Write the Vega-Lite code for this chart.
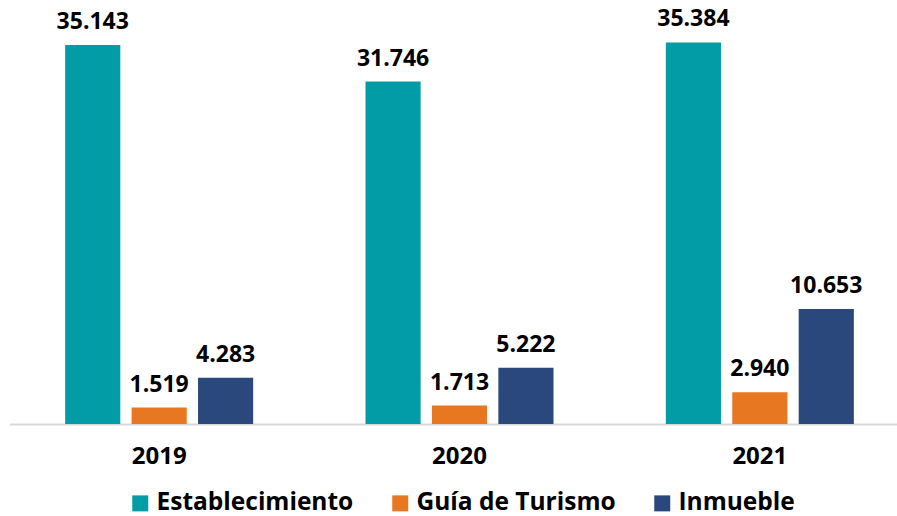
{
  "$schema": "https://vega.github.io/schema/vega-lite/v6.json",
  "width": 888,
  "height": 424,
  "autosize": {"type": "none"},
  "padding": {"left": 9, "top": 0, "right": 0, "bottom": 92},
  "config": {
    "view": {"stroke": null},
    "font": "Open Sans",
    "locale": {"number": {"decimal": ",", "thousands": ".", "grouping": [3], "currency": ["$", ""]}}
  },
  "data": {
    "values": [
      {"year": "2019", "tipo": "Establecimiento", "valor": 35143},
      {"year": "2019", "tipo": "Guía de Turismo", "valor": 1519},
      {"year": "2019", "tipo": "Inmueble", "valor": 4283},
      {"year": "2020", "tipo": "Establecimiento", "valor": 31746},
      {"year": "2020", "tipo": "Guía de Turismo", "valor": 1713},
      {"year": "2020", "tipo": "Inmueble", "valor": 5222},
      {"year": "2021", "tipo": "Establecimiento", "valor": 35384},
      {"year": "2021", "tipo": "Guía de Turismo", "valor": 2940},
      {"year": "2021", "tipo": "Inmueble", "valor": 10653}
    ]
  },
  "encoding": {
    "x": {
      "field": "year", "type": "nominal",
      "scale": {"range": [0, 901], "paddingInner": 0.374, "paddingOuter": 0.187},
      "axis": {
        "title": null, "labelAngle": 0, "ticks": false, "grid": false,
        "domainColor": "#d9d9d9", "domainWidth": 2,
        "labelFont": "Open Sans", "labelFontWeight": "bold", "labelFontSize": 24,
        "labelColor": "#000000", "labelPadding": 20
      }
    },
    "xOffset": {
      "field": "tipo", "type": "nominal",
      "scale": {"domain": ["Establecimiento", "Guía de Turismo", "Inmueble"], "paddingInner": 0.17, "paddingOuter": 0}
    },
    "y": {
      "field": "valor", "type": "quantitative",
      "scale": {"domain": [0, 39314], "nice": false},
      "axis": null
    }
  },
  "layer": [
    {
      "mark": {"type": "bar"},
      "encoding": {
        "color": {
          "field": "tipo", "type": "nominal",
          "scale": {
            "domain": ["Establecimiento", "Guía de Turismo", "Inmueble"],
            "range": ["#029CA6", "#E87722", "#2B487C"]
          },
          "legend": {
            "title": null, "orient": "none", "direction": "horizontal",
            "legendX": 119, "legendY": 491,
            "symbolType": "square", "symbolSize": 256, "symbolStrokeWidth": 0,
            "labelFont": "Open Sans", "labelFontWeight": "bold", "labelFontSize": 24.5,
            "labelLimit": 400,
            "labelColor": "#000000", "columnPadding": 34, "labelOffset": 4
          }
        }
      }
    },
    {
      "mark": {"type": "text", "baseline": "alphabetic", "dy": -16, "fontSize": 23, "fontWeight": "bold", "font": "Open Sans", "color": "#000000"},
      "encoding": {
        "text": {"field": "valor", "type": "quantitative", "format": ",d"}
      }
    }
  ]
}
